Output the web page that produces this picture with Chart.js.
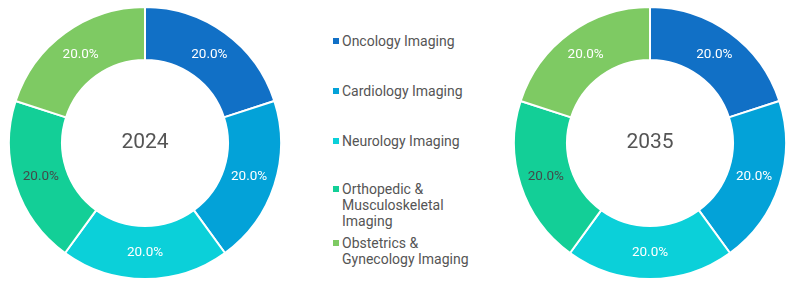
<!DOCTYPE html>
<html>
<head>
<meta charset="utf-8">
<script src="https://cdn.jsdelivr.net/npm/chart.js@4.4.1/dist/chart.umd.min.js"></script>
<style>
  html, body { margin: 0; padding: 0; background: #fff; }
  #wrap { position: relative; width: 800px; height: 296px; font-family: Roboto, sans-serif; }
  .pie { position: absolute; top: 6px; width: 274px; height: 274px; }
  #legend { position: absolute; left: 333px; top: 0; }
  .item { position: absolute; left: 0; width: 150px; display: flex; align-items: flex-start; }
  .box { width: 6px; height: 6px; margin-top: 5px; margin-right: 3px; flex: none; }
  .txt { font-size: 14px; line-height: 16px; color: #555; width: 132px; }
</style>
</head>
<body>
<div id="wrap">
  <div class="pie" style="left:8px"><canvas id="pie2024"></canvas></div>
  <div id="legend"></div>
  <div class="pie" style="left:513px"><canvas id="pie2035"></canvas></div>
</div>
<script>
const categories = ['Oncology Imaging', 'Cardiology Imaging', 'Neurology Imaging', 'Orthopedic & Musculoskeletal Imaging', 'Obstetrics & Gynecology Imaging'];
const colors = ['#1170c6', '#03a2d8', '#0bd0d9', '#13cf97', '#7eca63'];
const labelColors = ['#ffffff', '#ffffff', '#ffffff', '#434a4a', '#ffffff'];
const years = ['2024', '2035'];
const shares2024 = [20, 20, 20, 20, 20];
const shares2035 = [20, 20, 20, 20, 20];

// legend built from the categories
const legendTops = [33, 83, 133, 181, 235];
const legend = document.getElementById('legend');
categories.forEach((c, i) => {
  const item = document.createElement('div');
  item.className = 'item';
  item.style.top = legendTops[i] + 'px';
  item.innerHTML = '<span class="box" style="background:' + colors[i] + '"></span><span class="txt"></span>';
  item.querySelector('.txt').textContent = c;
  legend.appendChild(item);
});

// draws the percentage inside each slice and the year in the hole
const sliceLabels = {
  id: 'sliceLabels',
  afterDatasetsDraw(chart, args, opts) {
    const ctx = chart.ctx;
    const meta = chart.getDatasetMeta(0);
    const data = chart.data.datasets[0].data;
    const total = data.reduce((a, b) => a + b, 0);
    ctx.save();
    ctx.textAlign = 'center';
    ctx.textBaseline = 'middle';
    ctx.font = '13.5px Roboto, sans-serif';
    meta.data.forEach((arc, i) => {
      const p = arc.tooltipPosition();
      ctx.fillStyle = labelColors[i];
      ctx.fillText((data[i] / total * 100).toFixed(1) + '%', p.x, p.y);
    });
    const c = meta.data[0];
    ctx.font = '21px Roboto, sans-serif';
    ctx.fillStyle = '#555555';
    ctx.fillText(opts.year, c.x, c.y);
    ctx.restore();
  }
};

function createDonut(canvasId, values, year) {
  new Chart(canvasId, {
    type: 'doughnut',
    data: {
      labels: categories,
      datasets: [{
        data: values,
        backgroundColor: colors,
        borderColor: '#ffffff',
        borderWidth: 2
      }]
    },
    options: {
      responsive: true,
      maintainAspectRatio: false,
      animation: false,
      cutout: '61%',
      plugins: {
        legend: { display: false },
        tooltip: { enabled: false },
        sliceLabels: { year: year }
      }
    },
    plugins: [sliceLabels]
  });
}

createDonut('pie2024', shares2024, years[0]);
createDonut('pie2035', shares2035, years[1]);
</script>
</body>
</html>
